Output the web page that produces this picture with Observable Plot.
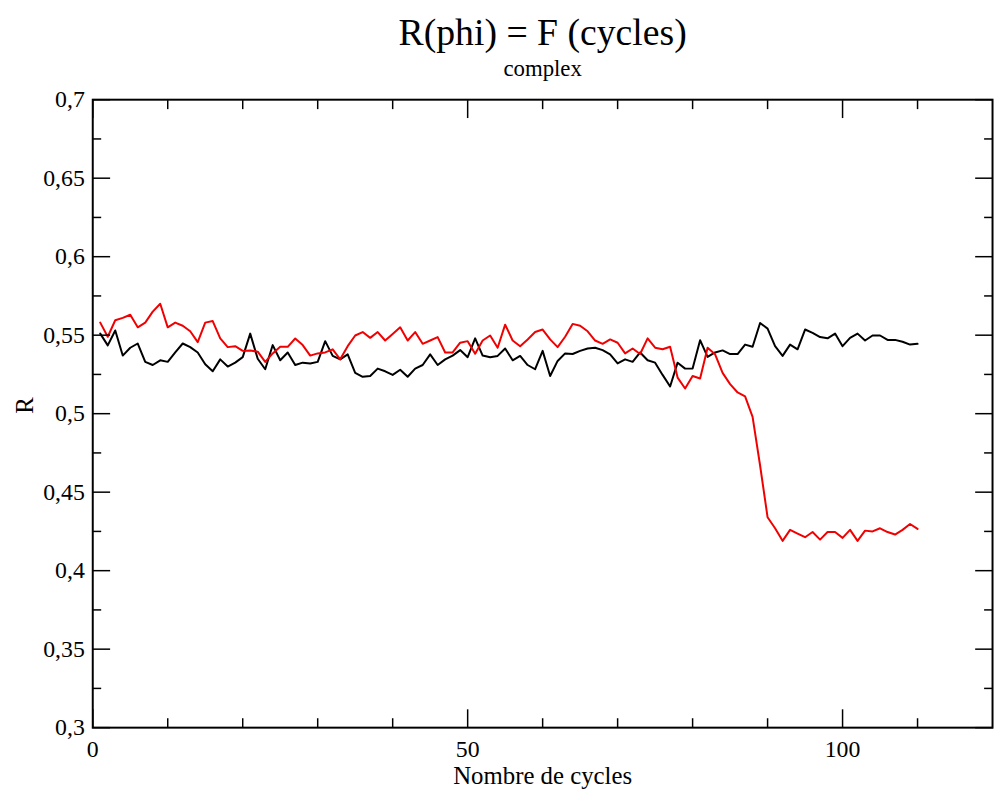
<!DOCTYPE html>
<html>
<head>
<meta charset="utf-8">
<script src="https://cdn.jsdelivr.net/npm/d3@7"></script>
<script src="https://cdn.jsdelivr.net/npm/@observablehq/plot@0.6"></script>
<style>
  html, body { margin: 0; padding: 0; background: white; overflow: hidden; }
  svg text { font-family: "Liberation Serif", "Times New Roman", serif !important; }
</style>
</head>
<body>
<div id="chart"></div>
<script>
const titleText = "R(phi) = F (cycles)";
const subtitleText = "complex";
const xLabel = "Nombre de cycles";
const yLabel = "R";

const cycles = d3.range(1, 111);

const blackValues = [
  0.551, 0.5435, 0.553, 0.537, 0.542, 0.5447, 0.533, 0.531, 0.534, 0.533,
  0.539, 0.5447, 0.5424, 0.539, 0.5315, 0.527, 0.5346, 0.530, 0.5325, 0.536,
  0.551, 0.535, 0.5283, 0.5437, 0.534, 0.539, 0.531, 0.5325, 0.532, 0.533,
  0.5462, 0.5368, 0.5346, 0.5378, 0.526, 0.5235, 0.524, 0.5287, 0.527, 0.5247,
  0.528, 0.5235, 0.5287, 0.531, 0.5378, 0.531, 0.5346, 0.537, 0.5405, 0.536,
  0.548, 0.537, 0.536, 0.5368, 0.5415, 0.534, 0.5368, 0.531, 0.5283, 0.540,
  0.524, 0.5336, 0.5384, 0.538, 0.540, 0.5415, 0.542, 0.5405, 0.5378, 0.532,
  0.5346, 0.533, 0.539, 0.534, 0.5325, 0.5247, 0.5173, 0.5325, 0.5287, 0.5287,
  0.5468, 0.5362, 0.539, 0.5403, 0.538, 0.538, 0.544, 0.5426, 0.5578, 0.5542,
  0.543, 0.5368, 0.544, 0.541, 0.5536, 0.5515, 0.5488, 0.548, 0.551, 0.543,
  0.5483, 0.551, 0.5466, 0.5498, 0.5498, 0.547, 0.547, 0.5458, 0.544, 0.5445
];

const redValues = [
  0.558, 0.549, 0.5595, 0.561, 0.563, 0.555, 0.558, 0.565, 0.570, 0.555,
  0.558, 0.556, 0.5525, 0.5456, 0.558, 0.559, 0.548, 0.5424, 0.543, 0.540,
  0.5403, 0.5395, 0.533, 0.5384, 0.5426, 0.5426, 0.5479, 0.5437, 0.537, 0.5384,
  0.539, 0.541, 0.5346, 0.543, 0.5498, 0.552, 0.5483, 0.552, 0.5466, 0.5508,
  0.555, 0.5466, 0.552, 0.5445, 0.5466, 0.5488, 0.539, 0.539, 0.5452, 0.5462,
  0.5382, 0.5466, 0.5498, 0.542, 0.5567, 0.5466, 0.543, 0.5473, 0.552, 0.5536,
  0.5473, 0.5424, 0.549, 0.5572, 0.556, 0.5525, 0.5466, 0.5445, 0.5473, 0.5452,
  0.5384, 0.5415, 0.538, 0.548, 0.542, 0.541, 0.5426, 0.523, 0.516, 0.524,
  0.5224, 0.542, 0.5378, 0.526, 0.5188, 0.5135, 0.511, 0.498, 0.467, 0.434,
  0.427, 0.419, 0.426, 0.4236, 0.4213, 0.4246, 0.4198, 0.4246, 0.4246, 0.4209,
  0.426, 0.419, 0.4255, 0.425, 0.427, 0.4246, 0.423, 0.426, 0.4297, 0.4266
];

const xMajorTicks = [0, 50, 100];
const xMinorTicks = [10, 20, 30, 40, 60, 70, 80, 90, 110];
const yMajorTicks = [0.3, 0.35, 0.4, 0.45, 0.5, 0.55, 0.6, 0.65, 0.7];
const yMinorTicks = [0.325, 0.375, 0.425, 0.475, 0.525, 0.575, 0.625, 0.675];

const blackData = cycles.map((c, i) => ({x: c, y: blackValues[i]}));
const redData = cycles.map((c, i) => ({x: c, y: redValues[i]}));

const commaFmt = d3.formatLocale({decimal: ",", thousands: ".", grouping: [3], currency: ["", ""]}).format(".2~f");
const blank = () => "";
const serif = "Liberation Serif";

const chart = Plot.plot({
  width: 1004,
  height: 798,
  marginLeft: 93,
  marginRight: 4,
  marginTop: 100,
  marginBottom: 65,
  x: {domain: [0, 120]},
  y: {domain: [0.3, 0.7]},
  style: {fontFamily: serif, fontSize: "24px", background: "white", color: "black"},
  marks: [
    Plot.line(blackData, {x: "x", y: "y", stroke: "black", strokeWidth: 2}),
    Plot.line(redData, {x: "x", y: "y", stroke: "#f00000", strokeWidth: 2}),
    Plot.frame({stroke: "black", strokeWidth: 2}),
    // bottom axis
    Plot.axisX({anchor: "bottom", ticks: xMajorTicks, tickSize: -18, tickPadding: 31, tickFormat: d => String(d), label: null, fontSize: 24, fontFamily: serif, strokeWidth: 1.5}),
    Plot.axisX({anchor: "bottom", ticks: xMinorTicks, tickSize: -9, tickFormat: blank, label: null, strokeWidth: 1.5}),
    // top mirror ticks
    Plot.axisX({anchor: "top", ticks: xMajorTicks, tickSize: -18, tickFormat: blank, label: null, strokeWidth: 1.5}),
    Plot.axisX({anchor: "top", ticks: xMinorTicks, tickSize: -9, tickFormat: blank, label: null, strokeWidth: 1.5}),
    // left axis
    Plot.axisY({anchor: "left", ticks: yMajorTicks, tickSize: -18, tickPadding: 26, tickFormat: commaFmt, label: null, fontSize: 24, fontFamily: serif, strokeWidth: 1.5}),
    Plot.axisY({anchor: "left", ticks: yMinorTicks, tickSize: -9, tickFormat: blank, label: null, strokeWidth: 1.5}),
    // right mirror ticks
    Plot.axisY({anchor: "right", ticks: yMajorTicks, tickSize: -18, tickFormat: blank, label: null, strokeWidth: 1.5}),
    Plot.axisY({anchor: "right", ticks: yMinorTicks, tickSize: -9, tickFormat: blank, label: null, strokeWidth: 1.5}),
    // titles and labels
    Plot.text([titleText], {frameAnchor: "top", lineAnchor: "middle", dy: -67, fontSize: 38, fontFamily: serif, fill: "black"}),
    Plot.text([subtitleText], {frameAnchor: "top", lineAnchor: "middle", dy: -31, fontSize: 23, fontFamily: serif, fill: "black"}),
    Plot.text([xLabel], {frameAnchor: "bottom", lineAnchor: "middle", dy: 49, fontSize: 25, fontFamily: serif, fill: "black"}),
    Plot.text([yLabel], {frameAnchor: "left", lineAnchor: "middle", dx: -68, rotate: -90, fontSize: 25, fontFamily: serif, fill: "black"})
  ]
});

document.getElementById("chart").appendChild(chart);
</script>
</body>
</html>
